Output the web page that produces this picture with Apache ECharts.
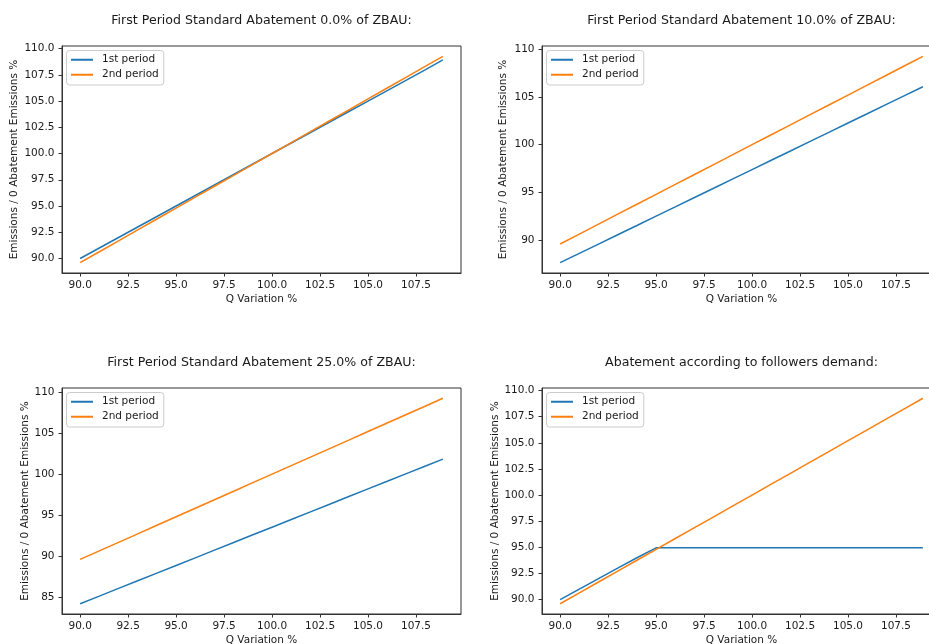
<!DOCTYPE html>
<html>
<head>
<meta charset="utf-8">
<script src="https://cdn.jsdelivr.net/npm/echarts@6/dist/echarts.min.js"></script>
<style>
  html, body { margin: 0; padding: 0; background: #fff; }
  #chart { width: 929px; height: 644px; }
</style>
</head>
<body>
<div id="chart"></div>
<script>
// Q variation (% of base output)
const qVariation = [90, 91, 92, 93, 94, 95, 96, 97, 98, 99, 100, 101, 102, 103, 104, 105, 106, 107, 108, 108.9];

// Second period emissions (same in every panel)
const secondPeriod = [89.6, 90.64, 91.68, 92.72, 93.76, 94.8, 95.84, 96.88, 97.92, 98.96, 100.0,
  101.04, 102.08, 103.12, 104.16, 105.2, 106.24, 107.28, 108.32, 109.26];

// First period emissions for each abatement scenario
const firstPeriod0 = [90.0, 91.0, 92.0, 93.0, 94.0, 95.0, 96.0, 97.0, 98.0, 99.0, 100.0,
  101.0, 102.0, 103.0, 104.0, 105.0, 106.0, 107.0, 108.0, 108.92];
const firstPeriod10 = [87.64, 88.62, 89.59, 90.57, 91.54, 92.52, 93.49, 94.47, 95.44, 96.42, 97.39,
  98.37, 99.34, 100.32, 101.29, 102.27, 103.24, 104.22, 105.19, 106.07];
const firstPeriod25 = [84.19, 85.12, 86.06, 86.99, 87.93, 88.86, 89.79, 90.73, 91.66, 92.6, 93.53,
  94.46, 95.4, 96.33, 97.27, 98.2, 99.13, 100.07, 101.0, 101.84];
const firstPeriodFollowers = [90.0, 91.0, 92.0, 93.0, 94.0, 94.95, 94.95, 94.95, 94.95, 94.95, 94.95,
  94.95, 94.95, 94.95, 94.95, 94.95, 94.95, 94.95, 94.95, 94.95];

const panelTitles = [
  'First Period Standard Abatement 0.0% of ZBAU:',
  'First Period Standard Abatement 10.0% of ZBAU:',
  'First Period Standard Abatement 25.0% of ZBAU:',
  'Abatement according to followers demand:'
];
const seriesNames = ['1st period', '2nd period'];
const xAxisTitle = 'Q Variation %';
const yAxisTitle = 'Emissions / 0 Abatement Emissions %';

// Tick values
const xTicks = [90, 92.5, 95, 97.5, 100, 102.5, 105, 107.5];
const yTicksFine = [90, 92.5, 95, 97.5, 100, 102.5, 105, 107.5, 110];
const yTicks10 = [90, 95, 100, 105, 110];
const yTicks25 = [85, 90, 95, 100, 105, 110];

const firstPeriodSets = [firstPeriod0, firstPeriod10, firstPeriod25, firstPeriodFollowers];
const yTickSets = [yTicksFine, yTicks10, yTicks25, yTicksFine];
const yDecimals = [1, 0, 0, 1];

// Layout of the four axes boxes (right column runs past the canvas edge)
const boxes = [
  { left: 62, top: 46, width: 399, height: 227, nameGap: 42 },
  { left: 542, top: 46, width: 399, height: 227, nameGap: 33 },
  { left: 62, top: 388, width: 399, height: 226, nameGap: 31.5 },
  { left: 542, top: 388, width: 399, height: 226, nameGap: 41.5 }
];

const FONT = 'DejaVu Sans';
const TEXT = '#1a1a1a';
const SPINE = '#333';
const BLUE = '#1f77b4';
const ORANGE = '#ff7f0e';
const TICK_FONT = 10.5;
const TITLE_FONT = 12.6;

// 5% padding around the data range, like the usual auto-scaled axis
function padded(arrs) {
  let lo = Infinity, hi = -Infinity;
  arrs.forEach(a => a.forEach(v => { lo = Math.min(lo, v); hi = Math.max(hi, v); }));
  const m = (hi - lo) * 0.05;
  return [lo - m, hi + m];
}

const xExt = padded([qVariation]);

const grid = [], xAxis = [], yAxis = [], series = [], legend = [], graphic = [];

boxes.forEach((b, i) => {
  grid.push({
    left: b.left, top: b.top, width: b.width, height: b.height,
    show: true, borderColor: SPINE, borderWidth: 1, backgroundColor: 'transparent',
    containLabel: false, outerBoundsMode: 'none'
  });
  xAxis.push({
    type: 'value', gridIndex: i, min: xExt[0], max: xExt[1],
    name: xAxisTitle, nameLocation: 'middle', nameGap: 20.5,
    nameTextStyle: { fontFamily: FONT, fontSize: TICK_FONT, color: TEXT },
    splitLine: { show: false },
    axisLine: { show: true, lineStyle: { color: SPINE, width: 1 } },
    axisTick: { show: true, length: 3.5, lineStyle: { color: SPINE }, customValues: xTicks },
    axisLabel: {
      fontFamily: FONT, fontSize: TICK_FONT, color: TEXT, margin: 6.5,
      customValues: xTicks, formatter: v => v.toFixed(1)
    }
  });
  const yExt = padded([firstPeriodSets[i], secondPeriod]);
  const dec = yDecimals[i];
  yAxis.push({
    type: 'value', gridIndex: i, min: yExt[0], max: yExt[1],
    name: yAxisTitle, nameLocation: 'middle', nameGap: b.nameGap,
    nameTextStyle: { fontFamily: FONT, fontSize: TICK_FONT, color: TEXT },
    splitLine: { show: false },
    axisLine: { show: true, lineStyle: { color: SPINE, width: 1 } },
    axisTick: { show: true, length: 3.5, lineStyle: { color: SPINE }, customValues: yTickSets[i] },
    axisLabel: {
      fontFamily: FONT, fontSize: TICK_FONT, color: TEXT, margin: 7.5,
      customValues: yTickSets[i], formatter: v => v.toFixed(dec)
    }
  });
  series.push({
    name: seriesNames[0], type: 'line', xAxisIndex: i, yAxisIndex: i,
    data: qVariation.map((q, j) => [q, firstPeriodSets[i][j]]),
    showSymbol: false, symbol: 'none', color: BLUE,
    lineStyle: { width: 1.5, color: BLUE }, z: 2
  });
  series.push({
    name: seriesNames[1], type: 'line', xAxisIndex: i, yAxisIndex: i,
    data: qVariation.map((q, j) => [q, secondPeriod[j]]),
    showSymbol: false, symbol: 'none', color: ORANGE,
    lineStyle: { width: 1.5, color: ORANGE }, z: 3
  });
  legend.push({
    data: seriesNames, orient: 'vertical',
    left: b.left + 4.5, top: b.top + 4.5,
    icon: 'rect', itemWidth: 22, itemHeight: 2, itemGap: 2.5,
    padding: [3, 5, 4, 4.5],
    borderColor: '#cccccc', borderWidth: 1, borderRadius: 3,
    backgroundColor: 'rgba(255,255,255,0.8)',
    selectedMode: false,
    textStyle: { fontFamily: FONT, fontSize: TICK_FONT, color: TEXT, lineHeight: 12.5, padding: [0, 0, 0, 4] }
  });
  graphic.push({
    type: 'text',
    x: b.left + b.width / 2,
    y: i < 2 ? 21 : 362.5,
    style: {
      text: panelTitles[i], fontFamily: FONT, fontSize: TITLE_FONT, fill: TEXT,
      textAlign: 'center', textVerticalAlign: 'middle'
    }
  });
});

const chart = echarts.init(document.getElementById('chart'), null, { renderer: 'canvas' });
chart.setOption({
  animation: false,
  backgroundColor: '#fff',
  grid, xAxis, yAxis, series, legend, graphic
});
</script>
</body>
</html>
